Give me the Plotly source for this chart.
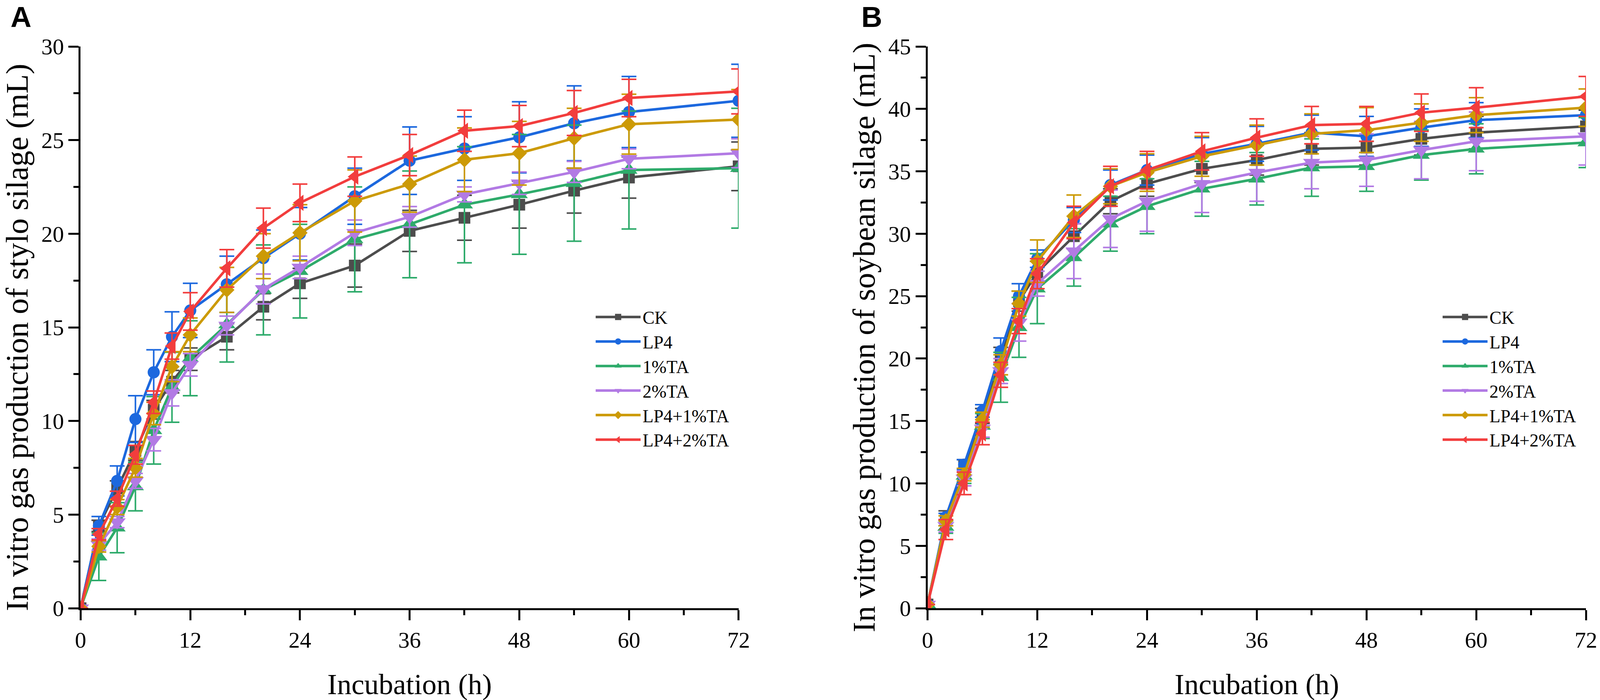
import plotly.graph_objects as go

# incubation times (h)
hours = [0, 2, 4, 6, 8, 10, 12, 16, 20, 24, 30, 36, 42, 48, 54, 60, 72]
groups = ["CK", "LP4", "1%TA", "2%TA", "LP4+1%TA", "LP4+2%TA"]

# A: stylo silage, gas production (mL) and SD
stylo_ck = [0, 4.4, 6.4, 8.4, 10.6, 12.1, 13.3, 14.5, 16.1, 17.35, 18.3, 20.15, 20.85, 21.55, 22.3, 23.0, 23.6]
stylo_lp4 = [0, 4.4, 6.8, 10.1, 12.6, 14.5, 15.9, 17.3, 18.7, 20.0, 22.0, 23.9, 24.55, 25.15, 25.9, 26.5, 27.1]
stylo_ta1 = [0, 2.75, 4.3, 6.5, 9.5, 11.8, 13.35, 15.15, 17.0, 18.0, 19.7, 20.5, 21.55, 22.1, 22.7, 23.4, 23.5]
stylo_ta2 = [0, 3.4, 4.6, 6.8, 9.0, 11.5, 13.0, 15.1, 17.05, 18.2, 20.05, 20.9, 22.1, 22.7, 23.3, 24.0, 24.3]
stylo_lp4_ta1 = [0, 3.3, 5.4, 7.5, 10.4, 12.9, 14.6, 17.0, 18.8, 20.05, 21.75, 22.65, 23.95, 24.3, 25.1, 25.85, 26.1]
stylo_lp4_ta2 = [0, 3.95, 5.85, 8.2, 11.0, 14.0, 15.85, 18.15, 20.3, 21.65, 23.05, 24.2, 25.5, 25.75, 26.45, 27.25, 27.6]

stylo_ck_sd = [0, 0.3, 0.4, 0.5, 0.5, 0.6, 0.6, 0.7, 0.7, 0.8, 1.15, 1.1, 1.2, 1.25, 1.2, 1.1, 1.3]
stylo_lp4_sd = [0, 0.5, 0.8, 1.25, 1.2, 1.33, 1.45, 1.5, 1.5, 1.4, 1.5, 1.8, 1.7, 1.9, 2.0, 1.9, 1.95]
stylo_ta1_sd = [0, 1.27, 1.34, 1.3, 1.8, 1.87, 2.0, 2.0, 2.4, 2.5, 2.8, 2.85, 3.1, 3.2, 3.1, 3.15, 3.2]
stylo_ta2_sd = [0, 0.3, 0.3, 0.4, 0.6, 0.7, 0.6, 0.5, 0.8, 0.6, 0.68, 0.55, 0.4, 0.6, 0.56, 0.53, 0.77]
stylo_lp4_ta1_sd = [0, 0.3, 0.4, 0.5, 0.6, 0.8, 0.9, 1.2, 1.2, 1.5, 1.66, 1.5, 1.7, 1.7, 1.6, 1.6, 1.6]
stylo_lp4_ta2_sd = [0, 0.3, 0.4, 0.5, 0.6, 0.7, 1.0, 1.0, 1.07, 1.0, 1.05, 1.1, 1.1, 1.1, 1.2, 1.0, 1.2]

# B: soybean silage, gas production (mL) and SD
soy_ck = [0.3, 7.2, 11.4, 15.4, 20.2, 24.6, 26.9, 29.8, 32.6, 34.0, 35.2, 35.9, 36.8, 36.9, 37.6, 38.1, 38.6]
soy_lp4 = [0.3, 7.3, 11.5, 15.8, 20.6, 25.0, 28.0, 31.1, 33.9, 35.1, 36.4, 37.2, 38.1, 37.8, 38.5, 39.1, 39.5]
soy_ta1 = [0.3, 6.5, 10.6, 14.6, 18.5, 22.5, 25.6, 28.1, 30.8, 32.2, 33.6, 34.4, 35.3, 35.4, 36.3, 36.8, 37.3]
soy_ta2 = [0.3, 6.6, 10.4, 14.4, 19.0, 22.9, 26.0, 28.6, 31.2, 32.6, 34.0, 34.9, 35.7, 35.9, 36.7, 37.4, 37.8]
soy_lp4_ta1 = [0.3, 7.0, 10.7, 15.1, 19.5, 24.4, 27.8, 31.4, 33.8, 34.9, 36.2, 37.1, 38.0, 38.3, 38.9, 39.5, 40.1]
soy_lp4_ta2 = [0.3, 6.3, 10.0, 14.0, 18.7, 23.0, 26.8, 30.9, 33.8, 35.1, 36.6, 37.7, 38.7, 38.8, 39.7, 40.1, 41.0]

soy_ck_sd = [0, 0.6, 0.5, 0.6, 0.7, 0.8, 0.9, 1.0, 1.0, 1.0, 1.1, 1.2, 1.3, 1.4, 1.3, 1.3, 1.3]
soy_lp4_sd = [0, 0.3, 0.4, 0.5, 1.05, 1.0, 0.7, 1.0, 1.2, 1.2, 1.3, 1.4, 1.4, 1.6, 1.5, 1.4, 1.5]
soy_ta1_sd = [0, 0.5, 0.6, 1.0, 2.0, 2.4, 2.8, 2.3, 2.2, 2.2, 2.2, 2.1, 2.3, 2.0, 2.0, 2.0, 2.0]
soy_ta2_sd = [0, 0.5, 0.6, 0.7, 1.0, 1.5, 1.0, 2.2, 2.3, 2.4, 2.3, 2.3, 2.1, 2.1, 2.3, 2.35, 2.3]
soy_lp4_ta1_sd = [0, 0.4, 0.5, 0.6, 0.8, 1.0, 1.7, 1.7, 1.4, 1.5, 1.6, 1.6, 1.6, 1.8, 1.5, 1.4, 1.5]
soy_lp4_ta2_sd = [0, 0.8, 0.9, 0.9, 1.0, 1.0, 1.2, 1.3, 1.6, 1.5, 1.5, 1.5, 1.5, 1.4, 1.5, 1.6, 1.6]

colors = ["#4d4d4d", "#1c68de", "#2eab6b", "#b27ae4", "#cc9a06", "#f23d3d"]
symbols = ["square", "circle", "triangle-up", "triangle-down", "diamond", "triangle-left"]
sizes = [30, 31, 38, 38, 30, 36]

stylo = [stylo_ck, stylo_lp4, stylo_ta1, stylo_ta2, stylo_lp4_ta1, stylo_lp4_ta2]
stylo_sd = [stylo_ck_sd, stylo_lp4_sd, stylo_ta1_sd, stylo_ta2_sd, stylo_lp4_ta1_sd, stylo_lp4_ta2_sd]
soy = [soy_ck, soy_lp4, soy_ta1, soy_ta2, soy_lp4_ta1, soy_lp4_ta2]
soy_sd = [soy_ck_sd, soy_lp4_sd, soy_ta1_sd, soy_ta2_sd, soy_lp4_ta1_sd, soy_lp4_ta2_sd]

SERIF = "Liberation Serif"
W, H = 4328, 1792  # reference size, used to place things as paper fractions

fig = go.Figure()

for vals, sds, xa, ya, leg in [(stylo, stylo_sd, "x", "y", "legend"),
                               (soy, soy_sd, "x2", "y2", "legend2")]:
    for i, name in enumerate(groups):
        fig.add_trace(go.Scatter(
            x=hours, y=vals[i], name=name, mode="lines+markers",
            xaxis=xa, yaxis=ya, legend=leg,
            line=dict(color=colors[i], width=6.5),
            marker=dict(symbol=symbols[i], size=sizes[i], color=colors[i]),
            error_y=dict(type="data", array=sds[i], visible=True,
                         color=colors[i], thickness=4, width=19),
        ))

axis_common = dict(
    showline=True, linecolor="black", linewidth=5, mirror=False,
    showgrid=False, zeroline=False, automargin=False,
    ticks="outside", ticklen=26, tickwidth=5, tickcolor="black",
    tickfont=dict(family=SERIF, size=58, color="black"),
    minor=dict(ticks="outside", ticklen=13, tickwidth=5, tickcolor="black"),
)

xt = dict(range=[0, 72], tickvals=[0, 12, 24, 36, 48, 60, 72],
          minor_tickvals=[6, 18, 30, 42, 54, 66])

# plot areas (paper fractions)
ax_a = [218 / W, 1998 / W]
ax_b = [2509 / W, 4290 / W]
y_dom = [1 - 1557 / H, 1 - 119 / H]

title_font = dict(family=SERIF, size=74, color="black")
ytitle_font = dict(family=SERIF, size=81, color="black")
legend_font = dict(family=SERIF, size=46, color="black")

fig.update_layout(
    autosize=True,
    paper_bgcolor="white", plot_bgcolor="white",
    margin=dict(l=0, r=0, t=0, b=0),
    xaxis=dict(domain=ax_a, anchor="y", **axis_common, **xt),
    xaxis2=dict(domain=ax_b, anchor="y2", **axis_common, **xt),
    yaxis=dict(domain=y_dom, anchor="x", range=[0, 30], dtick=5,
               minor_dtick=2.5, **axis_common),
    yaxis2=dict(domain=y_dom, anchor="x2", range=[0, 45], dtick=5,
                minor_dtick=2.5, **axis_common),
    legend=dict(x=1606 / W, y=1 - 775 / H, xanchor="left", yanchor="top",
                font=legend_font, bgcolor="rgba(0,0,0,0)",
                itemwidth=115, tracegroupgap=0),
    legend2=dict(x=(1606 + 2291) / W, y=1 - 775 / H, xanchor="left", yanchor="top",
                 font=legend_font, bgcolor="rgba(0,0,0,0)",
                 itemwidth=115, tracegroupgap=0),
    annotations=[
        dict(text="<b>A</b>", x=26 / W, y=1, xref="paper", yref="paper",
             xanchor="left", yanchor="top", showarrow=False,
             font=dict(family="Liberation Sans", size=74, color="black")),
        dict(text="<b>B</b>", x=2328 / W, y=1, xref="paper", yref="paper",
             xanchor="left", yanchor="top", showarrow=False,
             font=dict(family="Liberation Sans", size=74, color="black")),
        dict(text="Incubation (h)", x=sum(ax_a) / 2, y=1 - 1752 / H,
             xref="paper", yref="paper", xanchor="center", yanchor="middle",
             showarrow=False, font=title_font),
        dict(text="Incubation (h)", x=sum(ax_b) / 2, y=1 - 1752 / H,
             xref="paper", yref="paper", xanchor="center", yanchor="middle",
             showarrow=False, font=title_font),
        dict(text="In vitro gas production of stylo silage (mL)", x=46 / W,
             y=1 - 864 / H, xref="paper", yref="paper", xanchor="center",
             yanchor="middle", textangle=-90, showarrow=False, font=ytitle_font),
        dict(text="In vitro gas production of soybean silage (mL)", x=(46 + 2291) / W,
             y=1 - 864 / H, xref="paper", yref="paper", xanchor="center",
             yanchor="middle", textangle=-90, showarrow=False, font=ytitle_font),
    ],
)

# fill the browser window exactly (no page margin, no scrollbars)
fig.write_html(
    "out.html",
    default_width="100vw", default_height="100vh",
    config={"displayModeBar": False},
    post_script="document.body.style.margin='0';"
                "document.documentElement.style.overflow='hidden';",
)
